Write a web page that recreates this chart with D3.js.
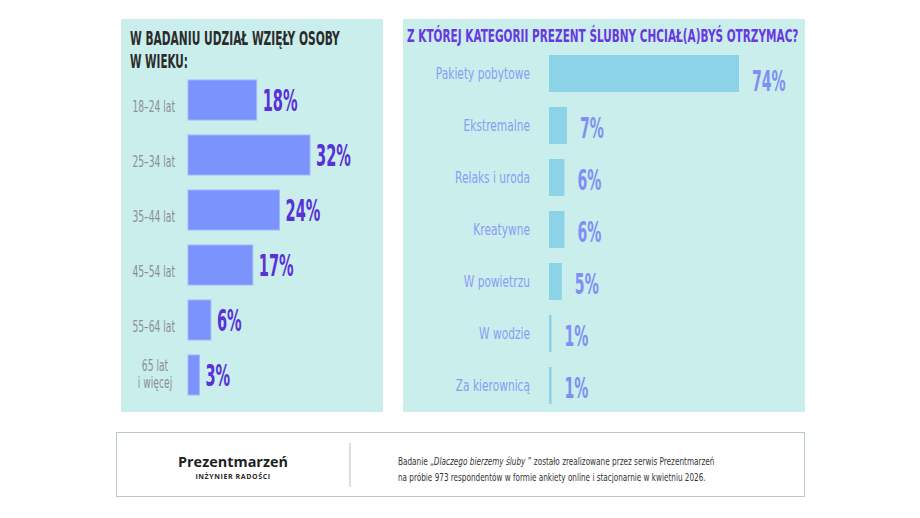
<!DOCTYPE html>
<html lang="pl">
<head>
<meta charset="utf-8">
<script src="https://cdn.jsdelivr.net/npm/d3@7.9.0/dist/d3.min.js"></script>
<style>
  body { margin: 0; background: #fff; }
  svg { display: block; }
  .narrow { font-family: "Liberation Sans Narrow", "DejaVu Sans Condensed", sans-serif; }
</style>
</head>
<body>
<svg id="chart" width="920" height="518"></svg>
<script>
// age groups of respondents
const ageGroups = ['18–24 lat', '25–34 lat', '35–44 lat', '45–54 lat', '55–64 lat', '65 lat\ni więcej'];
const ageShares = [18, 32, 24, 17, 6, 3];

// preferred wedding gift category
const giftCategories = ['Pakiety pobytowe', 'Ekstremalne', 'Relaks i uroda', 'Kreatywne', 'W powietrzu', 'W wodzie', 'Za kierownicą'];
const giftShares = [74, 7, 6, 6, 5, 1, 1];

const leftTitle = ['W BADANIU UDZIAŁ WZIĘŁY OSOBY', 'W WIEKU:'];
const rightTitle = 'Z KTÓREJ KATEGORII PREZENT ŚLUBNY CHCIAŁ(A)BYŚ OTRZYMAC?';
const footerLines = [
  ['Badanie „', 'Dlaczego bierzemy śluby', ' ” zostało zrealizowane przez serwis Prezentmarzeń'],
  ['na próbie 973 respondentów w formie ankiety online i stacjonarnie w kwietniu 2026.']
];

const svg = d3.select('#chart');
const panelBg = '#c9eeeb';

// squeeze a text horizontally so it spans `w` pixels from its anchor
function fit(sel, x, y, w) {
  const n = sel.node().getComputedTextLength();
  sel.attr('x', null).attr('y', null)
    .attr('transform', `translate(${x},${y}) scale(${w / n},1)`);
}

// panels
svg.append('rect').attr('x', 121).attr('y', 19).attr('width', 262).attr('height', 393).attr('fill', panelBg);
svg.append('rect').attr('x', 403).attr('y', 19).attr('width', 402).attr('height', 393).attr('fill', panelBg);

// ---- left chart ----
const lx = d3.scaleLinear().domain([0, 32]).range([0, 122]);
const ly = d3.scaleBand().domain(ageGroups).range([80, 395]).paddingInner(15 / 55);
const left = svg.append('g');

leftTitle.forEach((d, i) => {
  const t = left.append('text')
    .attr('class', 'narrow')
    .attr('font-size', 19)
    .attr('font-weight', 700)
    .attr('fill', '#2b2b2b')
    .text(d);
  fit(t, 130, 45 + i * 23, i ? 58 : 210);
});

left.selectAll('rect.bar')
  .data(ageShares)
  .enter().append('rect')
  .attr('x', 188)
  .attr('y', (d, i) => ly(ageGroups[i]))
  .attr('width', d => lx(d))
  .attr('height', ly.bandwidth())
  .attr('fill', '#7b93fd')
  .attr('stroke', '#a3b4ff')
  .attr('stroke-width', 1);

ageGroups.forEach((g, i) => {
  const lines = g.split('\n');
  const multi = lines.length > 1;
  const cy = ly(g) + ly.bandwidth() / 2 + (multi ? -1 : 7);
  const t = left.append('text')
    .attr('class', 'narrow')
    .attr('font-size', 15)
    .attr('fill', '#8b9096')
    .attr('text-anchor', multi ? 'middle' : 'end')
    .attr('transform', `translate(${multi ? 155 : 175},${cy}) scale(0.68,1)`);
  lines.forEach((l, k) => {
    t.append('tspan')
      .attr('x', 0)
      .attr('y', (k - (lines.length - 1) / 2) * 17)
      .attr('dominant-baseline', 'central')
      .text(l);
  });
});

left.selectAll('text.val')
  .data(ageShares)
  .enter().append('text')
  .attr('class', 'val narrow')
  .attr('transform', (d, i) => `translate(${188 + lx(d) + 6},${ly(ageGroups[i]) + ly.bandwidth() / 2 + 1}) scale(0.54,1)`)
  .attr('dominant-baseline', 'central')
  .attr('font-size', 30)
  .attr('font-weight', 700)
  .attr('fill', '#5a30d8')
  .text(d => d + '%');

// ---- right chart ----
const rx = d3.scaleLinear().domain([0, 74]).range([0, 190]);
const ry = d3.scaleBand().domain(giftCategories).range([55, 404]).paddingInner(15 / 52);
const right = svg.append('g');

const rt = right.append('text')
  .attr('class', 'narrow')
  .attr('font-size', 17.5)
  .attr('font-weight', 700)
  .attr('fill', '#6a38e0')
  .text(rightTitle);
fit(rt, 407, 42, 392);

right.selectAll('rect.bar')
  .data(giftShares)
  .enter().append('rect')
  .attr('x', 549)
  .attr('y', (d, i) => ry(giftCategories[i]))
  .attr('width', d => rx(d))
  .attr('height', ry.bandwidth())
  .attr('fill', '#8dd3e8');

right.selectAll('text.lbl')
  .data(giftCategories)
  .enter().append('text')
  .attr('class', 'narrow')
  .attr('transform', d => `translate(530,${ry(d) + ry.bandwidth() / 2}) scale(0.74,1)`)
  .attr('text-anchor', 'end')
  .attr('dominant-baseline', 'central')
  .attr('font-size', 16)
  .attr('fill', '#8c9cf6')
  .text(d => d);

right.selectAll('text.val')
  .data(giftShares)
  .enter().append('text')
  .attr('class', 'narrow')
  .attr('transform', (d, i) => `translate(${549 + rx(d) + 13},${ry(giftCategories[i]) + ry.bandwidth() / 2 + (i === 0 ? 7 : 2)}) scale(0.54,1)`)
  .attr('dominant-baseline', 'central')
  .attr('font-size', 29)
  .attr('font-weight', 700)
  .attr('fill', '#7f8ff6')
  .text(d => d + '%');

// ---- footer ----
const foot = svg.append('g');
foot.append('rect')
  .attr('x', 116.5).attr('y', 432.5).attr('width', 688).attr('height', 64)
  .attr('fill', '#fff').attr('stroke', '#b7cbc3').attr('stroke-width', 1);
foot.append('line')
  .attr('x1', 350).attr('x2', 350).attr('y1', 443).attr('y2', 487)
  .attr('stroke', '#b9bdc2').attr('stroke-width', 1);

const logo = foot.append('text')
  .attr('font-family', '"Open Sans", sans-serif')
  .attr('font-size', 15)
  .attr('font-weight', 700)
  .attr('fill', '#1f1f1f')
  .text('Prezentmarzeń');
fit(logo, 178, 467, 110);
foot.append('text')
  .attr('x', 233).attr('y', 479)
  .attr('text-anchor', 'middle')
  .attr('font-family', '"Open Sans", sans-serif')
  .attr('font-size', 7)
  .attr('font-weight', 700)
  .attr('letter-spacing', 0.6)
  .attr('fill', '#2a2a2a')
  .text('INŻYNIER RADOŚCI');

footerLines.forEach((parts, i) => {
  const t = foot.append('text')
    .attr('class', 'narrow')
    .attr('font-size', 11)
    .attr('fill', '#333');
  parts.forEach((p, k) => {
    t.append('tspan').attr('font-style', k === 1 ? 'italic' : 'normal').text(p);
  });
  fit(t, 398, 465 + i * 16, i ? 308 : 317);
});
</script>
</body>
</html>
